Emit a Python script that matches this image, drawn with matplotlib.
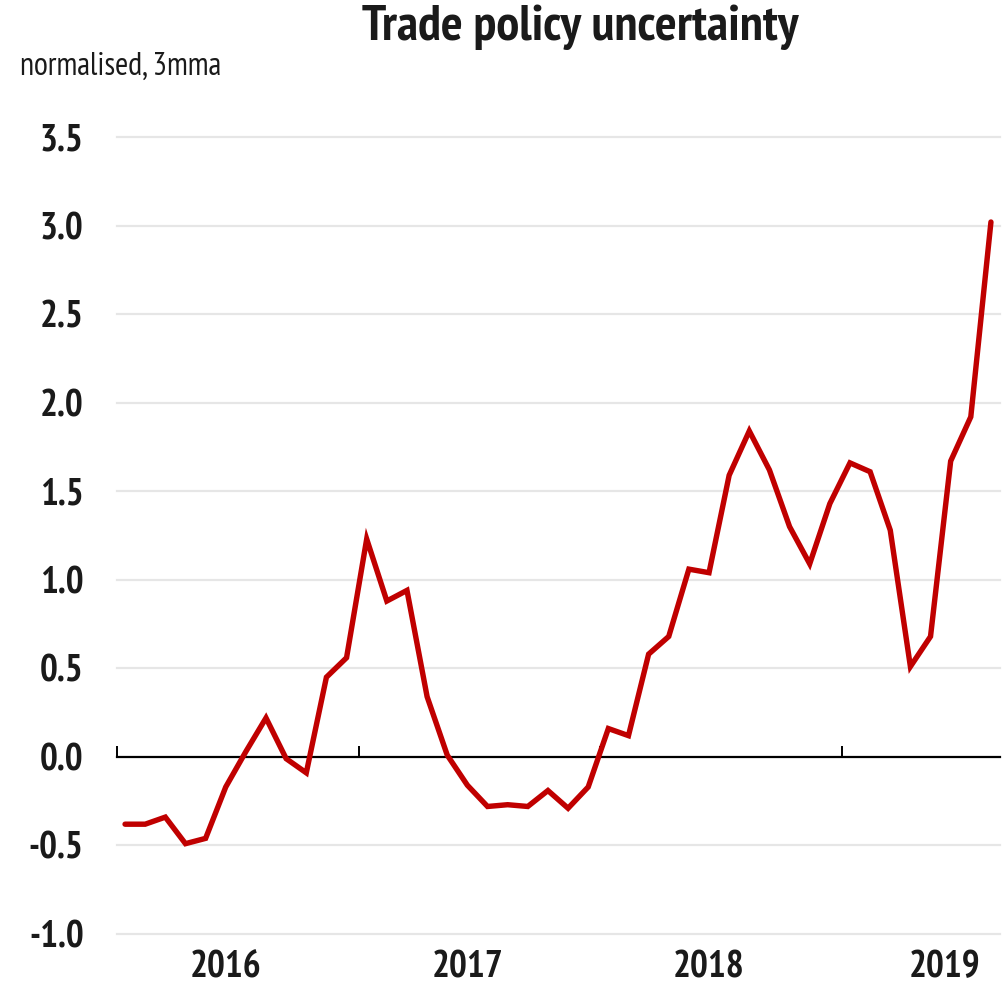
import matplotlib
matplotlib.use("Agg")
import matplotlib.pyplot as plt
import matplotlib.transforms as mtransforms
from matplotlib import font_manager

# Monthly trade policy uncertainty index (normalised, 3-month moving average), Jan 2016 - Aug 2019
years = ["2016", "2017", "2018", "2019"]
values = [
    -0.38, -0.38, -0.34, -0.49, -0.46, -0.17, 0.03, 0.22, -0.01, -0.09, 0.45, 0.56,   # 2016
    1.23, 0.88, 0.94, 0.34, 0.01, -0.16, -0.28, -0.27, -0.28, -0.19, -0.29, -0.17,  # 2017
    0.16, 0.12, 0.58, 0.68, 1.06, 1.04, 1.59, 1.84, 1.62, 1.30, 1.09, 1.43,         # 2018
    1.66, 1.61, 1.28, 0.51, 0.68, 1.67, 1.92, 3.02,                                 # 2019
]
y_ticks = [-1.0, -0.5, 0.0, 0.5, 1.0, 1.5, 2.0, 2.5, 3.0, 3.5]


def _weight(w):
    return w if isinstance(w, int) else font_manager.weight_dict.get(w, 400)


# prefer a narrow grotesque that has both regular and bold faces
fonts = font_manager.fontManager.ttflist
preferred = ["Liberation Sans Narrow", "Arial Narrow", "PT Sans Narrow", "Roboto Condensed",
             "Archivo Narrow", "Pragati Narrow", "Encode Sans Condensed", "Liberation Sans"]
family = "DejaVu Sans"
for name in preferred:
    weights = {_weight(f.weight) for f in fonts if f.name == name and f.style == "normal"}
    if any(w >= 700 for w in weights) and any(w <= 500 for w in weights):
        family = name
        break
plt.rcParams["font.family"] = [family, "DejaVu Sans"]

W, H = 1004, 994
fig = plt.figure(figsize=(W / 100, H / 100), dpi=100)

# axes box in pixel terms
left_px, right_px = 117, 1000
top_px, bottom_px = 137, 934
ax = fig.add_axes([left_px / W, 1 - bottom_px / H,
                   (right_px - left_px) / W, (bottom_px - top_px) / H])

n = len(values)
months_per_year = 12
xs = [i + 0.4 for i in range(n)]
x_max = 43.85

ax.set_xlim(0, x_max)
ax.set_ylim(-1.0, 3.5)

# horizontal gridlines
for t in y_ticks:
    if t != 0:
        ax.axhline(t, color="#e6e6e6", lw=1.6, zorder=1, clip_on=False)

# zero line acting as the x axis, with year-boundary ticks pointing up
for s in ["top", "right", "left"]:
    ax.spines[s].set_visible(False)
ax.spines["bottom"].set_position(("data", 0))
ax.spines["bottom"].set_color("black")
ax.spines["bottom"].set_linewidth(1.6)
ax.spines["bottom"].set_zorder(2)
ax.set_xticks([k * months_per_year for k in range(len(years))])
ax.tick_params(axis="x", direction="in", length=8, width=1.4, color="black", labelbottom=False)

ax.plot(xs, values, color="#c00000", lw=3.9, solid_joinstyle="miter",
        solid_capstyle="round", zorder=3, clip_on=False)

# y tick labels
ax.set_yticks(y_ticks)
ax.set_yticklabels([f"{t:.1f}" for t in y_ticks], fontsize=27, fontweight="bold", color="#1a1a1a")
ax.tick_params(axis="y", length=0, pad=24)

# year labels below the plot
trans = mtransforms.blended_transform_factory(ax.transData, fig.transFigure)
year_centres = [5.4, 17.4, 29.4, 41.1]
for yr, xc in zip(years, year_centres):
    ax.text(xc, 1 - 968 / H, yr, transform=trans, ha="center", va="center",
            fontsize=27, fontweight="bold", color="#1a1a1a")

fig.text(580 / W, 1 - 27 / H, "Trade policy uncertainty", ha="center", va="center",
         fontsize=37, fontweight="bold", color="#1a1a1a")
fig.text(20 / W, 1 - 67 / H, "normalised, 3mma", ha="left", va="center",
         fontsize=23, color="#1a1a1a")

fig.savefig("out.png", dpi=100, facecolor="white")
